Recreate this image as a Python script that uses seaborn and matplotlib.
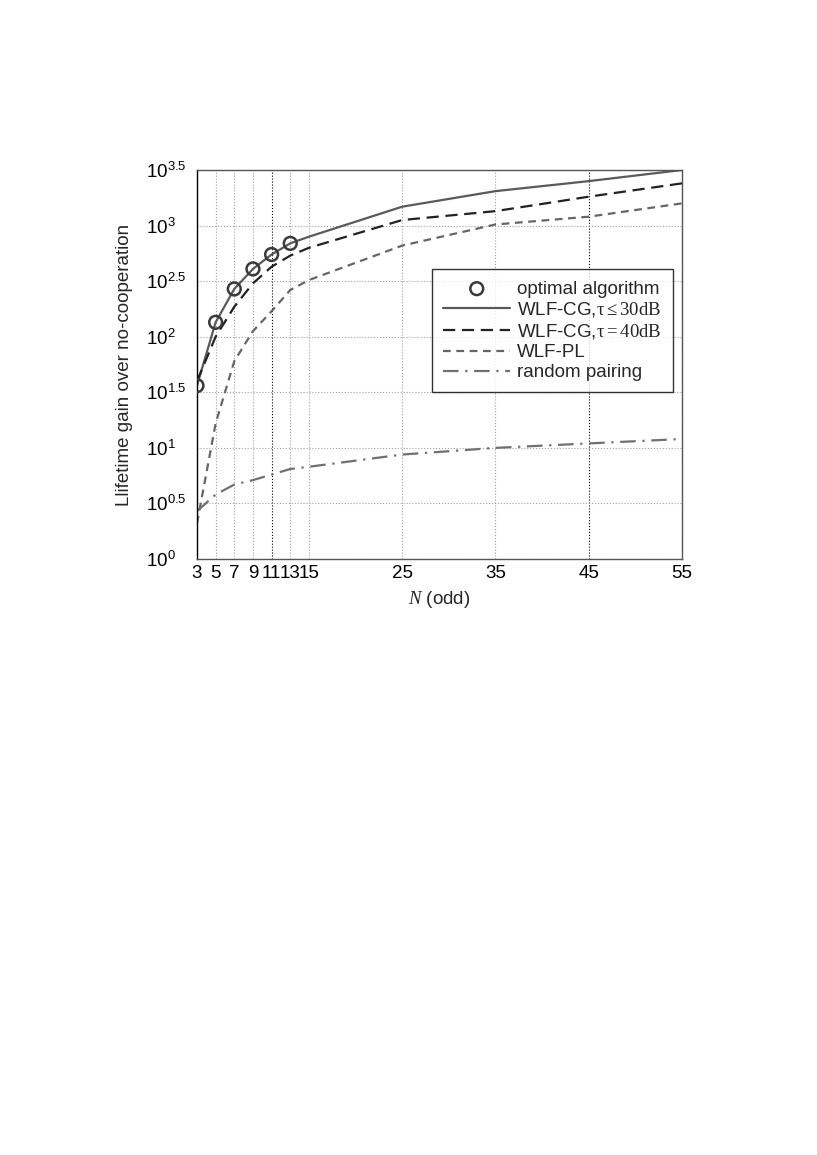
import numpy as np
import pandas as pd
import matplotlib
matplotlib.use("Agg")
import matplotlib.pyplot as plt
import seaborn as sns

# values, stored as log10 of the gain
n_curve = [3, 5, 7, 9, 11, 13, 15, 25, 35, 45, 55]
n_optimal = [3, 5, 7, 9, 11, 13]
optimal_exp = [1.56, 2.13, 2.43, 2.61, 2.74, 2.84]
cg30_exp = [1.56, 2.13, 2.43, 2.61, 2.74, 2.84, 2.90, 3.17, 3.31, 3.40, 3.50]
cg40_exp = [1.60, 2.00, 2.27, 2.48, 2.63, 2.73, 2.80, 3.05, 3.13, 3.26, 3.38]
pl_exp = [0.32, 1.22, 1.78, 2.05, 2.23, 2.42, 2.51, 2.82, 3.01, 3.08, 3.20]
random_exp = [0.43, 0.58, 0.67, 0.71, 0.76, 0.81, 0.83, 0.94, 1.00, 1.04, 1.08]

x_ticks = [3, 5, 7, 9, 11, 13, 15, 25, 35, 45, 55]
y_exps = [0, 0.5, 1, 1.5, 2, 2.5, 3, 3.5]

sns.set_theme(style="white")
plt.rcParams["font.family"] = ["Liberation Sans", "DejaVu Sans"]
plt.rcParams["mathtext.fontset"] = "custom"
plt.rcParams["mathtext.rm"] = "Liberation Serif"
plt.rcParams["mathtext.it"] = "Liberation Serif:italic"
plt.rcParams["mathtext.sf"] = "Liberation Sans"

FS = 13.5

curves = pd.DataFrame({
    "N": n_curve,
    "cg30": np.power(10.0, cg30_exp),
    "cg40": np.power(10.0, cg40_exp),
    "pl": np.power(10.0, pl_exp),
    "random": np.power(10.0, random_exp),
})
optimal = pd.DataFrame({"N": n_optimal, "gain": np.power(10.0, optimal_exp)})

fig = plt.figure(figsize=(8.17, 11.55), dpi=100)
ax = fig.add_axes([0.2411, 0.516, 0.5937, 0.3368])
ax.set_yscale("log")

sns.scatterplot(data=optimal, x="N", y="gain", ax=ax, marker="o", s=85,
                facecolor="none", edgecolor="#3a3a3a", linewidth=1.8,
                label="optimal algorithm", zorder=5)
sns.lineplot(data=curves, x="N", y="cg30", ax=ax, color="#5a5a5a", lw=1.6,
             label=r"WLF-CG,$\mathrm{\tau\leq 30dB}$")
sns.lineplot(data=curves, x="N", y="cg40", ax=ax, color="#222222", lw=1.6,
             dashes=(5.5, 3), label=r"WLF-CG,$\mathrm{\tau= 40dB}$")
sns.lineplot(data=curves, x="N", y="pl", ax=ax, color="#666666", lw=1.6,
             dashes=(3.5, 2.5), label="WLF-PL")
sns.lineplot(data=curves, x="N", y="random", ax=ax, color="#707070", lw=1.6,
             dashes=(7, 3, 1, 3), label="random pairing")

ax.set_xlim(3, 55)
ax.set_ylim(1, 10 ** 3.5)
ax.set_xticks(x_ticks)
ax.set_xticklabels([str(v) for v in x_ticks])
ax.set_yticks([10 ** e for e in y_exps])
ax.set_yticklabels([r"$\mathsf{10^{%g}}$" % e for e in y_exps])
ax.yaxis.set_minor_locator(matplotlib.ticker.NullLocator())
ax.tick_params(axis="both", direction="in", length=4, labelsize=FS,
               color="#333333", labelcolor="black")
ax.tick_params(axis="y", pad=37)
for lab in ax.get_yticklabels():
    lab.set_horizontalalignment("left")
ax.tick_params(axis="x", pad=4)

ax.grid(True, linestyle=":", color="#a0a0a0", lw=0.8)
for i, v in enumerate(x_ticks):
    if v in (11, 45):
        ax.xaxis.get_gridlines()[i].set_color("black")
for sp in ax.spines.values():
    sp.set_color("#555555")
    sp.set_linewidth(1.0)
ax.spines["left"].set_color("black")

ax.set_xlabel(r"$N$ (odd)", fontsize=FS, labelpad=5)
ax.set_ylabel("Llifetime gain over no-cooperation", fontsize=FS, labelpad=9)

leg = ax.legend(loc="upper left", bbox_to_anchor=(0.484, 0.745), fontsize=FS,
                frameon=True, fancybox=False, edgecolor="black",
                handlelength=3.6, borderpad=0.6, labelspacing=0.15,
                handletextpad=0.35, borderaxespad=0)
leg.get_frame().set_linewidth(1.0)

fig.savefig("out.png", dpi=100)
